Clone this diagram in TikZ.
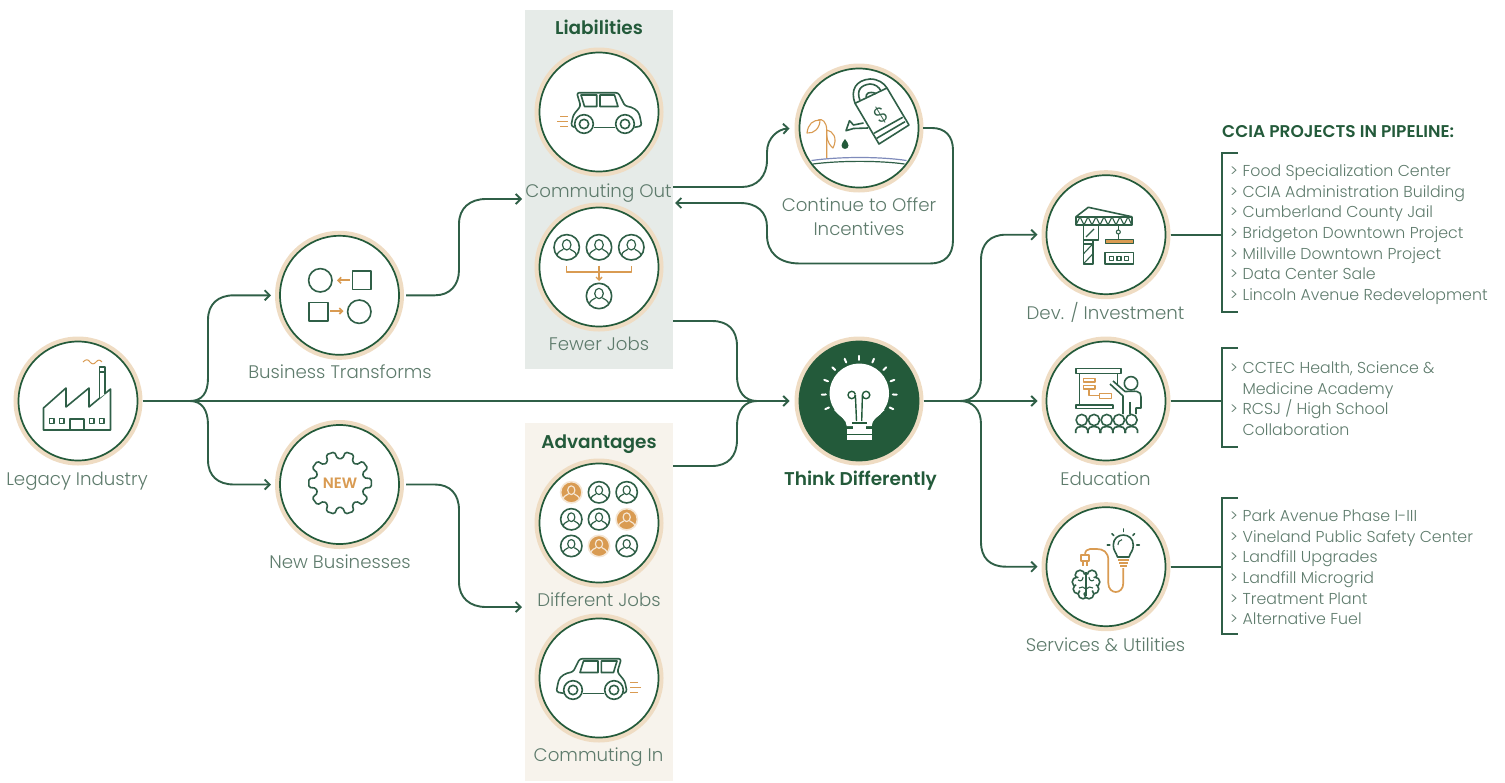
\documentclass[tikz,border=0pt]{standalone}
\usepackage{fontspec}
\setmainfont{Poppins}[UprightFont=* Light,BoldFont=* SemiBold]
\usetikzlibrary{arrows.meta}
\definecolor{dkgreen}{HTML}{235A3A}
\definecolor{linegreen}{HTML}{2F5F47}
\definecolor{ringc}{HTML}{EFDCC3}
\definecolor{orangec}{HTML}{D99B52}
\definecolor{labelc}{HTML}{5E7B6C}
\definecolor{liabc}{HTML}{E6EBE8}
\definecolor{advc}{HTML}{F7F3EC}
\definecolor{groundc}{HTML}{7F8BBB}
\tikzset{
  x=1pt,y=-1pt,
  disc/.style={circle,draw=dkgreen,line width=1.7pt,fill=white,minimum size=119pt,inner sep=0pt,outer sep=0pt,
    preaction={draw=ringc,line width=10pt}},
  conn/.style={draw=linegreen,line width=1.9pt},
  arr/.style={conn,-{Straight Barb[length=5pt,width=10pt,line width=1.9pt]}},
  icon/.style={draw=linegreen,line width=1.6pt,line join=round},
  oicon/.style={draw=orangec,line width=1.5pt,line join=round},
  lab/.style={text=labelc,font=\fontsize{18.2}{22}\selectfont,anchor=base,inner sep=0pt},
  blab/.style={text=dkgreen,font=\fontsize{18.5}{22}\selectfont\bfseries,anchor=base,inner sep=0pt},
  item/.style={text=labelc,font=\fontsize{15.8}{18}\selectfont,anchor=base west,inner sep=0pt},
  panel/.style={minimum width=148pt,inner sep=0pt,outer sep=0pt},
}
\newcommand\personicon[5]{%
  \begin{scope}[shift={(#1,#2)},scale=#3]
    \draw[icon,draw=#4,fill=#5] (0,0) circle (12.7);
    \draw[icon,draw=#4,line width=1.2pt] (0,-2.5) ellipse (4.3 and 5.2);
    \draw[icon,draw=#4,line width=1.2pt] (-9.7,8.3) .. controls (-9,4) and (-6,3.8) .. (-3.5,2);
    \draw[icon,draw=#4,line width=1.2pt] (9.7,8.3) .. controls (9,4) and (6,3.8) .. (3.5,2);
  \end{scope}}
\newcommand\plainperson[3]{\personicon{#1}{#2}{#3}{linegreen}{none}}
\newcommand\fullperson[3]{\personicon{#1}{#2}{#3}{white!75!orangec}{orangec}}
\newcommand\caricon{%
  \draw[icon] (-5,15.3) -- (16,15.3);
  \draw[icon,rounded corners=2.5pt] (-24.3,15.3) -- (-28,14) -- (-25.7,3) -- (-18.3,-6) -- (-22.3,-19.3) -- (19.3,-19.3) -- (26,-6)
     .. controls (33,-5) and (39,-2) .. (41,5) -- (42.7,14) -- (35.3,15.3);
  \draw[icon] (-15,12) circle (9.3);
  \draw[icon] (-15,12) circle (4.7);
  \draw[icon] (26,12) circle (9.3);
  \draw[icon] (26,12) circle (4.7);
  \draw[icon] (-18,-17) -- (-2.3,-17) -- (-2.3,-5.5) -- (-14.5,-5.5) -- cycle;
  \draw[icon] (1,-17) -- (15.5,-17) -- (19,-5.5) -- (1,-5.5) -- cycle;
  \draw[oicon] (-39,4.7) -- (-31,4.7);
  \draw[oicon] (-42,9.7) -- (-31,9.7);
  \draw[oicon] (-39,14.7) -- (-31,14.7);}
\begin{document}
\begin{tikzpicture}
\useasboundingbox (0,0) rectangle (1505,782);
% panels
\node[panel,fill=liabc,minimum height=359pt] (liabpanel) at (599,189.5) {};
\node[panel,fill=advc,minimum height=358pt] (advpanel) at (599,602) {};
% discs
\node[disc] (legacy) at (78,401) {};
\node[disc] (bt) at (339.5,295.3) {};
\node[disc] (nb) at (339.5,484.5) {};
\node[disc] (co) at (599,112) {};
\node[disc] (fj) at (599,267) {};
\node[disc] (dj) at (599,523) {};
\node[disc] (ci) at (599,678) {};
\node[disc] (cont) at (859,128) {};
\node[disc,fill=dkgreen] (think) at (859,401) {};
\node[disc] (dev) at (1106,234.7) {};
\node[disc] (edu) at (1106,401) {};
\node[disc] (serv) at (1106,566.7) {};
% named free ends
\coordinate (fork1) at (190,401);
\coordinate (liabin) at (522,199);
\coordinate (advin) at (522,607);
\coordinate (coout) at (673,187);
\coordinate (coin) at (675,203);
\coordinate (fjout) at (673,321);
\coordinate (djout) at (673,466);
\coordinate (fork2) at (757,401);
\coordinate (fork3) at (960,401);
\coordinate (br1) at (1222,234.7);
\coordinate (br2) at (1222,401);
\coordinate (br3) at (1222,566.7);
% connectors
\draw[arr,shorten <=5pt,shorten >=10pt] (legacy.east) -- (think.west);
\draw[arr,shorten >=9pt] (fork1) .. controls (202,401) and (208,393) .. (208,378) -- (208,320) .. controls (208,304) and (218,295.3) .. (234,295.3) -- (bt.west);
\draw[arr,shorten >=9pt] (fork1) .. controls (202,401) and (208,410) .. (208,425) -- (208,460) .. controls (208,476) and (218,484.5) .. (234,484.5) -- (nb.west);
\draw[arr,shorten <=7pt] (bt.east) -- (435,295.3) .. controls (450,295.3) and (459,285) .. (459,270) -- (459,224) .. controls (459,208) and (470,199) .. (486,199) -- (liabin);
\draw[arr,shorten <=7pt] (nb.east) -- (435,484.5) .. controls (450,484.5) and (459,494) .. (459,510) -- (459,582) .. controls (459,598) and (470,607) .. (486,607) -- (advin);
\draw[arr,shorten >=10pt] (coout) -- (742,187) .. controls (757,187) and (767,176) .. (767,160) -- (767,152) .. controls (767,138) and (778,129) .. (cont.west);
\draw[arr,shorten <=4.5pt] (cont.east) -- (932,128) .. controls (945,128) and (953,136) .. (953,150) -- (953,240) .. controls (953,255) and (945,263.5) .. (930,263.5) -- (800,263.5) .. controls (778,263.5) and (767,252) .. (767,235) -- (767,227) .. controls (767,212) and (757,203) .. (740,203) -- (coin);
\draw[conn] (fjout) -- (712,321) .. controls (728,321) and (737,330) .. (737,346) -- (737,376) .. controls (737,392) and (745,401) .. (fork2);
\draw[conn] (djout) -- (712,466) .. controls (728,466) and (737,456) .. (737,440) -- (737,426) .. controls (737,410) and (745,401) .. (fork2);
\draw[arr,shorten <=5pt,shorten >=9pt] (think.east) -- (edu.west);
\draw[arr,shorten >=9pt] (fork3) .. controls (973,401) and (981,392) .. (981,378) -- (981,260) .. controls (981,244) and (990,234.7) .. (1006,234.7) -- (dev.west);
\draw[arr,shorten >=9pt] (fork3) .. controls (973,401) and (981,410) .. (981,424) -- (981,542) .. controls (981,558) and (990,566.7) .. (1006,566.7) -- (serv.west);
\draw[conn,shorten <=5pt] (dev.east) -- (br1);
\draw[conn,shorten <=5pt] (edu.east) -- (br2);
\draw[conn,shorten <=5pt] (serv.east) -- (br3);
\draw[conn] (1238,152.7) -- (1222,152.7) -- (br1) -- (1222,312) -- (1238,312);
\draw[conn] (1238,348) -- (1222,348) -- (br2) -- (1222,447) -- (1238,447);
\draw[conn] (1238,498) -- (1222,498) -- (br3) -- (1222,634) -- (1238,634);
% --- factory
\draw[icon] (43.5,430) -- (43.5,408) -- (66,388) -- (66,407) -- (89,388) -- (89,407) -- (110.5,389) -- (110.5,430) -- cycle;
\draw[icon,fill=white] (99.5,398) -- (99.5,367) -- (105,367) -- (105,394);
\draw[icon] (99.5,372) -- (105,372);
\draw[oicon,line width=1pt] (83,362) .. controls (86,359) and (88,359) .. (90,362) .. controls (92,364.5) and (94,364.5) .. (96,362) .. controls (98,359.5) and (100,359.5) .. (102,362);
\foreach \wx in {51.7,61.7,91.7,101.7} \draw[icon,line width=1.3pt] (\wx-2.2,418.8) rectangle (\wx+2.2,423.2);
\draw[icon] (70,430) -- (70,419) -- (84,419) -- (84,430);
% --- business transforms
\draw[icon] (320.3,280.3) circle (11.7);
\draw[icon] (352.3,270.7) rectangle (371,289.3);
\draw[icon] (309,302.3) rectangle (327.7,321);
\draw[icon] (359.3,311.7) circle (11.7);
\draw[oicon,line width=1.9pt,-{Straight Barb[length=3pt,width=6pt,line width=1.6pt]}] (350,280.3) -- (337,280.3);
\draw[oicon,line width=1.9pt,-{Straight Barb[length=3pt,width=6pt,line width=1.6pt]}] (330,311) -- (343.5,311);
% --- gear
\begin{scope}[shift={(340,483)}]
\draw[icon,rounded corners=1.6pt] (0:31.5) \foreach \a in {0,36,...,324} {
   -- (\a+8:31.5) -- (\a+12:24.5) -- (\a+24:24.5) -- (\a+28:31.5) } -- cycle;
\node[text=orangec,font=\fontsize{15}{18}\selectfont\bfseries,inner sep=0pt] (newtxt) at (0,0) {NEW};
\end{scope}
% --- cars
\begin{scope}[shift={(599,112)}] \caricon \end{scope}
\begin{scope}[shift={(599,678)},xscale=-1] \caricon \end{scope}
% --- fewer jobs
\plainperson{566.7}{247.3}{1}
\plainperson{599}{247.3}{1}
\plainperson{631.3}{247.3}{1}
\plainperson{599}{296}{1}
\draw[oicon] (566.7,265.5) -- (566.7,272) -- (631.3,272) -- (631.3,265.5);
\draw[oicon,-{Straight Barb[length=3pt,width=6pt,line width=1.4pt]}] (599,265.5) -- (599,281);
% --- different jobs
\fullperson{571.3}{492.3}{0.84}
\plainperson{599}{492.3}{0.84}
\plainperson{626.7}{492.3}{0.84}
\plainperson{571.3}{519.3}{0.84}
\plainperson{599}{519.3}{0.84}
\fullperson{626.7}{519.3}{0.84}
\plainperson{571.3}{546}{0.84}
\fullperson{599}{546}{0.84}
\plainperson{626.7}{546}{0.84}
% --- watering can
\draw[icon] (855,103.3) -- (887,88) -- (909,125) -- (879,144) -- cycle;
\draw[icon] (874,133.3) -- (902.7,117.3);
\draw[icon] (876.7,138.3) -- (905,121.7);
\draw[icon] (855,103.3) .. controls (850,90) and (856,80) .. (870,79) .. controls (878,79) and (884,83) .. (887,88);
\draw[icon] (860,100.5) .. controls (856,90) and (861,85) .. (870,84) .. controls (875,84) and (879,87) .. (881,91);
\draw[icon] (866,97.5) .. controls (866,93) and (869,91) .. (876,93.5);
\draw[icon] (863.5,123) -- (853.5,125) -- (849.5,120.7) -- (846,130.7) -- (853.5,128.5) -- (868,128);
\node[text=linegreen,rotate=31,font=\fontsize{21}{22}\selectfont,inner sep=0pt] (dollar) at (881,115) {\$};
\fill[dkgreen] (845,139) .. controls (847,142) and (848.5,143.5) .. (848.5,145.5) .. controls (848.5,150) and (841.5,150) .. (841.5,145.5) .. controls (841.5,143.5) and (843,142) .. (845,139) -- cycle;
\draw[oicon,line width=1.1pt] (826.7,158) -- (826.7,130) .. controls (826.7,122) and (822,118) .. (818,120);
\draw[oicon,line width=1.1pt] (807,133) .. controls (808,124) and (813,120) .. (820,120) .. controls (820,128) and (814,134) .. (807,133) -- cycle;
\draw[oicon,line width=1.1pt] (826.7,130) .. controls (833,131) and (838,138) .. (833,148) .. controls (827,143) and (826,136) .. (826.7,130) -- cycle;
\draw[draw=groundc,line width=1.2pt] (811.5,160.5) .. controls (840,156.5) and (880,156.5) .. (906.5,160.5);
\draw[draw=linegreen,line width=1.2pt] (813,164) .. controls (840,160.5) and (880,160.5) .. (904.5,164);
% --- think bulb
\fill[white] (859.3,393.3) circle (29.7);
\fill[white] (834,410) .. controls (840,416) and (846.7,420) .. (846.7,426) -- (871.7,426) .. controls (871.7,420) and (878,416) .. (884.6,410) -- cycle;
\fill[white] (846.7,428.5) rectangle (871.7,440);
\draw[draw=dkgreen,line width=1pt] (846.7,434) -- (871.7,434);
\fill[white] (853,423) rectangle (865.5,429);
\draw[draw=dkgreen,line width=1.4pt] (855.4,395) arc[start angle=0,delta angle=350,radius=3.7];
\draw[draw=dkgreen,line width=1.4pt] (862.4,395) arc[start angle=180,delta angle=350,radius=3.7];
\draw[draw=dkgreen,line width=1.4pt] (855.4,395) -- (856.5,421);
\draw[draw=dkgreen,line width=1.4pt] (862.4,395) -- (861.7,421);
\draw[draw=dkgreen,line width=1.4pt] (852,423) -- (866.5,423);
\foreach \a in {-25,-2,21,44,67,90,113,136,159,182,205}
  \draw[white,line width=2pt,line cap=round] (859.3,393.3) ++({-\a}:33.5) -- ++({-\a}:4);
% --- crane
\draw[icon] (1076,216.7) rectangle (1131.7,225);
\draw[icon,line width=1.1pt] (1076,225) -- (1080,216.7) -- (1084,225) -- (1088,216.7) -- (1092,225) -- (1096,216.7) -- (1100,225) -- (1104,216.7) -- (1108,225) -- (1112,216.7) -- (1116,225) -- (1120,216.7) -- (1124,225) -- (1128,216.7) -- (1131.7,225);
\draw[icon] (1076,216.7) -- (1088.3,207.3) -- (1131.7,216.7);
\draw[icon] (1083.3,225) -- (1083.3,264) -- (1092.7,264) -- (1092.7,240);
\draw[icon] (1083.3,240) -- (1098.3,240) -- (1098.3,225);
\draw[icon,line width=1.1pt] (1086,237) -- (1094,229);
\draw[icon,line width=1.1pt] (1083.3,244) -- (1092.7,244);
\draw[icon,line width=1.1pt] (1083.3,254) -- (1092.7,244) (1083.3,264) -- (1092.7,254);
\draw[icon] (1118.3,225) -- (1118.3,239.3);
\draw[icon,fill=white,line width=1.1pt] (1118.3,232) circle (2);
\draw[icon,fill=orangec,line width=1pt] (1105,239.5) rectangle (1133.3,243.3);
\draw[icon] (1105,252.3) rectangle (1133.3,264);
\foreach \wx in {1111.7,1119,1126.7} \draw[icon,line width=1.1pt] (\wx-2,256.3) rectangle (\wx+2,260.3);
% --- education
\draw[icon] (1076,368.3) rectangle (1120.7,373.3);
\draw[icon] (1079.3,373.3) -- (1079.3,405);
\draw[icon] (1117.3,373.3) -- (1117.3,384);
\draw[icon] (1076,405) rectangle (1113,408.3);
\draw[oicon,line width=1.1pt] (1083.3,378.3) rectangle (1095,382);
\draw[oicon,line width=1.1pt] (1083.3,385.5) rectangle (1095,389);
\draw[oicon,line width=1.1pt] (1099.3,393.3) rectangle (1111.7,398.3);
\draw[oicon,line width=1.1pt] (1089,389) -- (1089,395.5) -- (1099.3,395.5);
\draw[icon] (1131,383.3) circle (6.7);
\draw[icon] (1110,384) -- (1123,396) -- (1123,414);
\draw[icon] (1113,381) -- (1125,391.5) .. controls (1128,391.5) and (1135,391) .. (1137,391.5) .. controls (1140,392) and (1141,394) .. (1141,397) -- (1141,408) -- (1136,408) -- (1136,414);
\draw[icon,line width=1.1pt] (1130,402) -- (1130,414);
\foreach \px in {1081.7,1094,1106.7,1119,1131.5} {
  \draw[icon,fill=white] (\px,420) circle (5.6);
  \draw[icon] (\px-6,433) -- (\px-6,430) .. controls (\px-6,427.5) and (\px-3,426.5) .. (\px,426.5) .. controls (\px+3,426.5) and (\px+6,427.5) .. (\px+6,430) -- (\px+6,433);
}
% --- services
\draw[oicon,line width=1.7pt] (1123.3,568) -- (1123.3,583) .. controls (1123.3,595) and (1108.3,595) .. (1108.3,583) -- (1108.3,560) .. controls (1108.3,552) and (1103,549) .. (1097,549) -- (1090,549) .. controls (1087,549) and (1085,551) .. (1085,555);
\draw[oicon] (1081,555) rectangle (1089,561);
\draw[oicon] (1083,561) -- (1083,566) (1087,561) -- (1087,566);
\draw[oicon] (1118,560) -- (1129,560) (1119,563) -- (1128,563) (1120,566) -- (1127,566);
\draw[icon] (1117.5,557) .. controls (1116,552) and (1113.3,551) .. (1113.3,545) .. controls (1113.3,531.7) and (1133.3,531.7) .. (1133.3,545) .. controls (1133.3,551) and (1130.5,552) .. (1129,557) -- cycle;
\draw[icon,line width=1.1pt] (1118,545) .. controls (1118,541.5) and (1120,540) .. (1122,539.7);
\foreach \a in {0,45,90,135,180} \draw[icon,line cap=round] (1123.3,545) ++({-\a}:13.5) -- ++({-\a}:2.5);
\foreach \bx/\by in {1080/575, 1077/582, 1078/589, 1083/594, 1092/575, 1095/582, 1094/589, 1089/594} \draw[icon,fill=white] (\bx,\by) circle (4.8);
\fill[white] (1086,583.5) ellipse (10 and 9);
\draw[icon] (1086,572) -- (1086,596);
\draw[icon,line width=1.1pt] (1078,580) .. controls (1081,582) and (1083,580) .. (1083,577);
\draw[icon,line width=1.1pt] (1094,580) .. controls (1091,582) and (1089,580) .. (1089,577);
\draw[icon,line width=1.1pt] (1079,588) .. controls (1081,586) and (1084,587) .. (1086,589);
\draw[icon,line width=1.1pt] (1093,588) .. controls (1091,586) and (1088,587) .. (1086,589);
% --- labels
\node[lab] (t1) at (77,485) {Legacy Industry};
\node[lab] (t2) at (340,378) {Business Transforms};
\node[lab] (t3) at (340,568) {New Businesses};
\node[lab] (t4) at (598.5,197) {Commuting Out};
\node[lab] (t5) at (599,350) {Fewer Jobs};
\node[lab] (t6) at (599,606.7) {Different Jobs};
\node[lab] (t7) at (598.5,761.7) {Commuting In};
\node[lab] (t8) at (859,211.7) {Continue to Offer};
\node[lab] (t9) at (859,235) {Incentives};
\node[blab] (t10) at (860.5,485) {Think Differently};
\node[lab] (t11) at (1105.5,319) {Dev. / Investment};
\node[lab] (t12) at (1105.5,485) {Education};
\node[lab] (t13) at (1105.5,651.7) {Services \& Utilities};
\node[blab] (t14) at (599,34) {Liabilities};
\node[blab] (t15) at (599,448.3) {Advantages};
\node[item,anchor=base west,text=dkgreen,font=\fontsize{17}{18}\selectfont\bfseries] (t16) at (1222,137) {CCIA PROJECTS IN PIPELINE:};
\newcommand\bul{\makebox[12.4pt][l]{>}}
\newcommand\nobul{\makebox[12.4pt][l]{}}
\node[item] (a1) at (1230,176.7) {\bul Food Specialization Center};
\node[item] (a2) at (1230,197.3) {\bul CCIA Administration Building};
\node[item] (a3) at (1230,217.7) {\bul Cumberland County Jail};
\node[item] (a4) at (1230,238.3) {\bul Bridgeton Downtown Project};
\node[item] (a5) at (1230,259) {\bul Millville Downtown Project};
\node[item] (a6) at (1230,279.3) {\bul Data Center Sale};
\node[item] (a7) at (1230,300) {\bul Lincoln Avenue Redevelopment};
\node[item] (b1) at (1230,373.3) {\bul CCTEC Health, Science \&};
\node[item] (b2) at (1230,394) {\nobul Medicine Academy};
\node[item] (b3) at (1230,414.3) {\bul RCSJ / High School};
\node[item] (b4) at (1230,435) {\nobul Collaboration};
\node[item] (c1) at (1230,521.7) {\bul Park Avenue Phase I-III};
\node[item] (c2) at (1230,542.3) {\bul Vineland Public Safety Center};
\node[item] (c3) at (1230,562.7) {\bul Landfill Upgrades};
\node[item] (c4) at (1230,583.3) {\bul Landfill Microgrid};
\node[item] (c5) at (1230,604) {\bul Treatment Plant};
\node[item] (c6) at (1230,624.3) {\bul Alternative Fuel};
\end{tikzpicture}
\end{document}
